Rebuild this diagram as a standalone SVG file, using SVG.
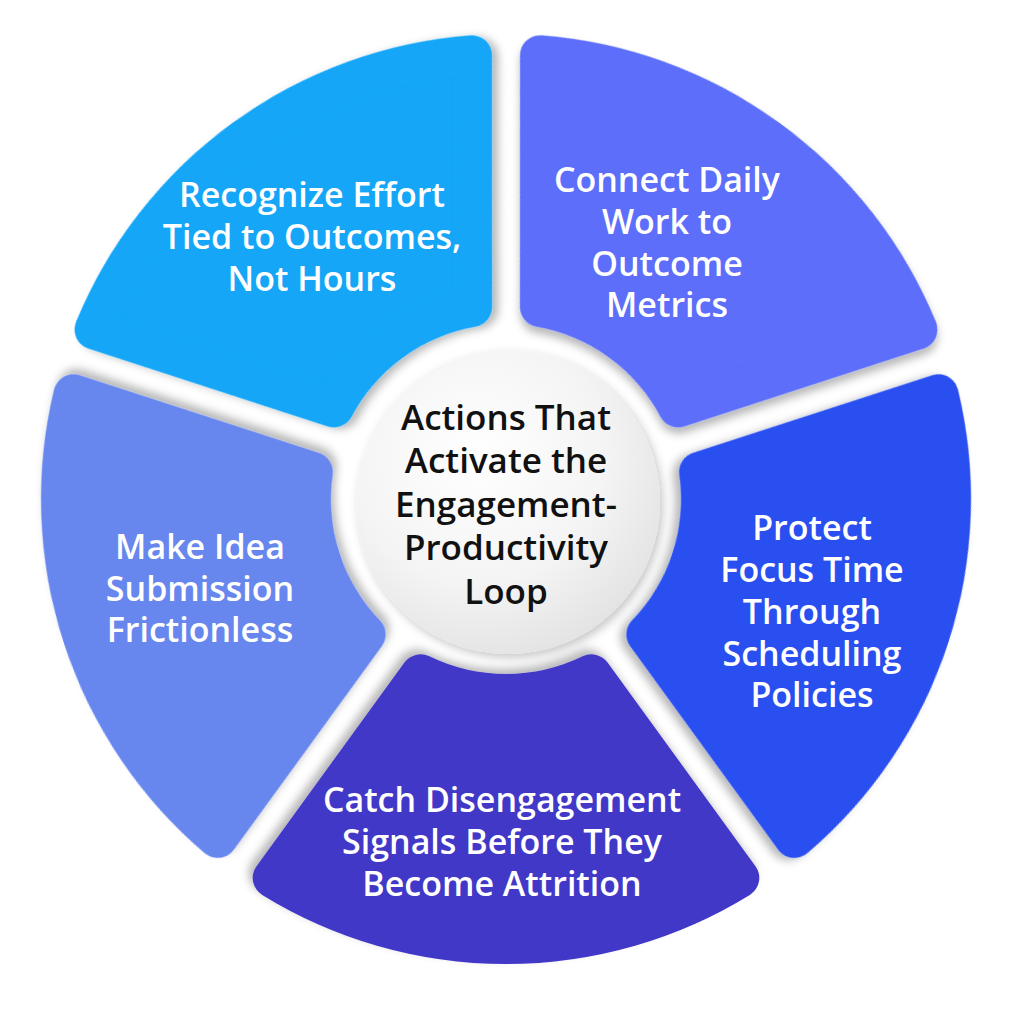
<svg xmlns="http://www.w3.org/2000/svg" width="1024" height="1013" viewBox="0 0 1024 1013">
<defs>
<filter id="sh" x="-20%" y="-20%" width="140%" height="140%">
<feDropShadow dx="4" dy="5" stdDeviation="4" flood-color="#000" flood-opacity="0.28"/>
</filter>
<filter id="csh" x="-20%" y="-20%" width="140%" height="140%">
<feDropShadow dx="3" dy="4" stdDeviation="5" flood-color="#000" flood-opacity="0.22"/>
</filter>
<radialGradient id="cg" cx="0.4" cy="0.35" r="0.7">
<stop offset="0" stop-color="#ffffff"/>
<stop offset="0.6" stop-color="#f4f4f4"/>
<stop offset="1" stop-color="#e2e2e2"/>
</radialGradient>
<path id="seg" d="M -233.3 -378.9 A 445 445 0 0 1 233.3 -378.9 L 85.4 -175.3 A 195 195 0 0 0 -85.4 -175.3 Z"/>
</defs>
<style>
.s{stroke-width:40;stroke-linejoin:round;filter:url(#sh)}
.t{font-family:"Open Sans","Noto Sans","DejaVu Sans",sans-serif;font-size:34px;font-weight:600;fill:#fff;text-anchor:middle}
.c{font-family:"Open Sans","Noto Sans","DejaVu Sans",sans-serif;font-size:35px;font-weight:600;fill:#111;text-anchor:middle}
</style>
<rect width="1024" height="1013" fill="#fff"/>
<g id="seg-recognize">
<use href="#seg" class="s" fill="#12A6F8" stroke="#12A6F8" transform="translate(506 499) rotate(-36)"/>
<text class="t"><tspan x="312" y="207">Recognize Effort</tspan><tspan x="312" y="249">Tied to Outcomes,</tspan><tspan x="312" y="291">Not Hours</tspan></text>
</g>
<g id="seg-connect">
<use href="#seg" class="s" fill="#5B6EFA" stroke="#5B6EFA" transform="translate(506 499) rotate(36)"/>
<text class="t"><tspan x="667" y="192">Connect Daily</tspan><tspan x="667" y="234">Work to</tspan><tspan x="667" y="276">Outcome</tspan><tspan x="667" y="317">Metrics</tspan></text>
</g>
<g id="seg-protect">
<use href="#seg" class="s" fill="#2B4FF0" stroke="#2B4FF0" transform="translate(506 499) rotate(108)"/>
<text class="t"><tspan x="812" y="540">Protect</tspan><tspan x="812" y="582">Focus Time</tspan><tspan x="812" y="624">Through</tspan><tspan x="812" y="666">Scheduling</tspan><tspan x="812" y="707">Policies</tspan></text>
</g>
<g id="seg-catch">
<use href="#seg" class="s" fill="#4238C8" stroke="#4238C8" transform="translate(506 499) rotate(180)"/>
<text class="t"><tspan x="502" y="812">Catch Disengagement</tspan><tspan x="502" y="854">Signals Before They</tspan><tspan x="502" y="896">Become Attrition</tspan></text>
</g>
<g id="seg-make">
<use href="#seg" class="s" fill="#6887EE" stroke="#6887EE" transform="translate(506 499) rotate(252)"/>
<text class="t"><tspan x="200" y="559">Make Idea</tspan><tspan x="200" y="601">Submission</tspan><tspan x="200" y="642">Frictionless</tspan></text>
</g>
<g id="center">
<circle cx="508" cy="502" r="152" fill="url(#cg)" filter="url(#csh)"/>
<text class="c"><tspan x="506" y="430">Actions That</tspan><tspan x="506" y="473">Activate the</tspan><tspan x="506" y="517">Engagement-</tspan><tspan x="506" y="560">Productivity</tspan><tspan x="506" y="604">Loop</tspan></text>
</g>
</svg>
